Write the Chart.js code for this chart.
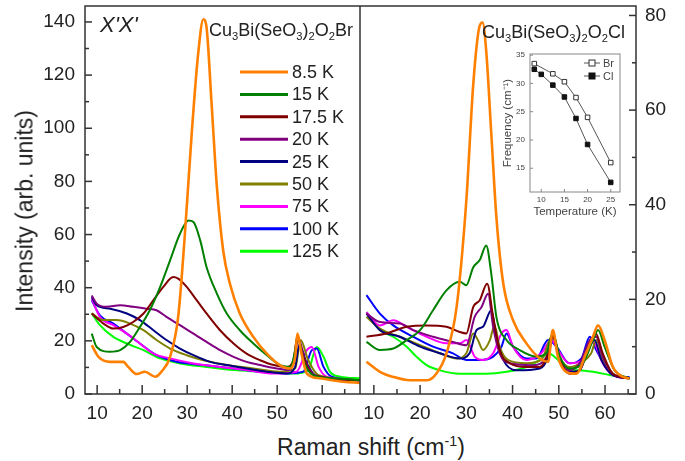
<!DOCTYPE html>
<html>
<head>
<meta charset="utf-8">
<script src="https://cdn.jsdelivr.net/npm/chart.js@4.4.1/dist/chart.umd.min.js"></script>
<style>
  body { margin: 0; background: #fff; width: 685px; height: 461px; position: relative; overflow: hidden;
         font-family: "Liberation Sans", Arial, sans-serif; }
  canvas { position: absolute; }
  .lbl { position: absolute; white-space: nowrap; color: #222; line-height: 1; z-index: 5; }
  .lbl sub { font-size: 62%; vertical-align: -0.32em; line-height: 0; }
  .lbl sup { font-size: 62%; vertical-align: 0.62em; line-height: 0; }
</style>
</head>
<body>
<canvas id="left" width="360" height="430" style="left:0;top:0"></canvas>
<canvas id="right" width="325" height="430" style="left:360px;top:0"></canvas>
<canvas id="inset" width="137" height="181" style="left:488px;top:44px"></canvas>

<div class="lbl" style="left:100px;top:14px;font-size:22px;font-style:italic">X'X'</div>
<div class="lbl" style="left:209px;top:21px;font-size:18px">Cu<sub>3</sub>Bi(SeO<sub>3</sub>)<sub>2</sub>O<sub>2</sub>Br</div>
<div class="lbl" style="left:482px;top:23px;font-size:18px">Cu<sub>3</sub>Bi(SeO<sub>3</sub>)<sub>2</sub>O<sub>2</sub>Cl</div>
<div class="lbl" style="left:371px;top:447px;font-size:23px;transform:translate(-50%,-50%)">Raman shift (cm<sup>-1</sup>)</div>
<div class="lbl" style="left:25px;top:211px;font-size:23px;transform:translate(-50%,-50%) rotate(-90deg)">Intensity (arb. units)</div>

<script>
// temperatures and their colours (same order in both panels)
const temps = ['8.5 K', '15 K', '17.5 K', '20 K', '25 K', '50 K', '75 K', '100 K', '125 K'];
const colors = ['#FF8000', '#008000', '#800000', '#800080', '#000080', '#808000', '#FF00FF', '#0000FF', '#00FF00'];

// tick labels
const mainXTicks = [10, 20, 30, 40, 50, 60];
const leftYTicks = [0, 20, 40, 60, 80, 100, 120, 140];
const rightYTicks = [0, 20, 40, 60, 80];
const insetXTicks = [10, 15, 20, 25];
const insetYTicks = [15, 20, 25, 30, 35];

// Cu3Bi(SeO3)2O2Br spectra, [Raman shift, intensity]
const br85 = [[8.8,18.4],[10.3,14.0],[12.9,12.1],[15.8,12.1],[16.9,10.2],[18.8,7.5],[20.6,8.4],[22.9,6.5],[24.3,8.4],[26.2,14],[28.0,29],[29.5,60.3],[31.0,97.8],[32.5,129],[33.6,141],[34.3,138],[35.4,110],[36.6,78],[38.0,54],[39.5,41.5],[41.7,30.3],[44.7,21.5],[47.7,15.2],[50.6,10.9],[52.9,9.6],[54.0,14],[54.5,22.7],[55.4,15.2],[56.6,7.7],[59.5,5.9],[64.7,4.6],[68.4,4.2]];
const br15 = [[8.8,22.7],[9.9,17.7],[12.9,15.9],[15.1,16.5],[17.3,19.6],[19.5,25.2],[21.7,31.5],[24.0,40.3],[26.2,50.3],[28.4,60.3],[30.3,65.3],[31.4,64.7],[32.9,57.8],[34.3,47.8],[36.6,37.8],[38.8,30.3],[41.7,24.0],[44.7,19.0],[47.7,14.6],[50.6,10.9],[52.9,10.2],[54.0,16.5],[54.5,22.1],[55.8,12.7],[58.0,7.1],[62.5,5.9],[68.4,5.2]];
const br175 = [[8.8,30.3],[11.4,26.5],[13.6,24.6],[15.8,25.2],[18.0,27.1],[20.3,30.3],[22.5,35.3],[24.7,40.3],[26.9,44.0],[28.0,43.4],[29.9,40.3],[32.1,35.3],[34.3,30.3],[37.3,24.0],[40.3,19.0],[43.2,15.2],[46.2,12.7],[49.2,10.9],[52.1,10.2],[53.6,12.7],[54.5,21.5],[55.8,14],[58.0,7.1],[68.4,5.2]];
const br20 = [[8.8,37.1],[9.9,34.0],[12.1,32.8],[15.1,33.4],[18.0,32.8],[21.0,32.1],[23.2,31.5],[25.4,29.0],[28.4,25.9],[31.4,22.7],[34.3,19.6],[37.3,16.5],[40.3,14.0],[43.2,12.1],[46.2,10.9],[49.9,9.6],[52.9,9.0],[54.0,15.2],[54.7,20.9],[56.2,12.7],[58.4,7.1],[68.4,5.2]];
const br25 = [[8.8,36.5],[9.9,33.4],[12.9,32.1],[16.6,30.3],[19.5,27.8],[22.5,24.0],[25.4,20.3],[28.4,17.1],[31.4,14.6],[35.1,12.1],[38.8,10.9],[43.2,9.6],[47.7,8.4],[52.1,7.7],[54.0,10.2],[54.9,18.4],[56.6,11.5],[58.8,6.5],[68.4,5.2]];
const br50 = [[8.8,30.3],[11.4,27.8],[14.3,27.8],[17.3,26.5],[20.3,24.0],[23.2,20.3],[26.2,17.1],[29.9,14.6],[33.6,12.7],[38.8,10.9],[44.7,9.6],[50.6,8.4],[54.0,9.6],[55.2,20.3],[56.9,12.7],[59.2,7.1],[68.4,5.2]];
const br75 = [[8.8,35.9],[10.6,29.0],[13.6,25.9],[16.6,22.7],[19.5,19.0],[22.5,15.2],[26.2,13.4],[31.4,11.5],[37.3,10.2],[43.2,9.0],[49.2,7.7],[54.3,8.4],[56.6,16.5],[57.7,17.7],[59.2,10.2],[61.0,6.5],[68.4,5.2]];
const br100 = [[8.8,35.3],[10.6,29.6],[13.6,26.5],[16.6,22.7],[19.5,19.0],[23.2,14.6],[27.7,12.1],[33.6,10.9],[40.3,9.6],[46.2,8.4],[52.1,7.7],[55.8,8.4],[57.7,16.5],[58.8,17.1],[60.3,10.2],[62.1,6.5],[68.4,5.2]];
const br125 = [[8.8,30.3],[10.6,25.9],[13.6,21.5],[16.6,19.0],[20.3,16.5],[24.0,13.4],[28.4,11.5],[34.3,10.2],[40.3,9.0],[46.2,8.4],[53.6,7.7],[56.9,9.0],[58.8,17.7],[60.3,14.0],[61.7,8.4],[64.0,6.5],[68.4,5.9]];

// Cu3Bi(SeO3)2O2Cl spectra
const cl85 = [[8.4,6.8],[11.3,4.7],[14.2,3.6],[17.8,2.9],[21.4,2.9],[23.5,4.3],[25.7,8.6],[27.9,18.4],[30.0,40.9],[31.5,65.5],[32.8,77.5],[33.5,78.5],[34.3,72.5],[35.4,55],[36.5,37.4],[38.0,23.3],[40.1,15.6],[43.0,10.7],[45.9,7.5],[47.7,6.8],[48.7,13.5],[49.8,7.9],[51.6,4.7],[53.8,4.3],[55.9,8.6],[57.4,12.1],[58.5,14.5],[59.9,11.4],[61.7,5.7],[63.9,3.6],[65.3,3.3]];
const cl15 = [[8.4,11.0],[11.3,9.3],[14.2,9.6],[17.1,11.4],[20.0,13.5],[22.8,17.7],[25.7,21.9],[28.6,23.7],[30.0,23.0],[31.5,26.8],[32.9,28.3],[34.3,31.4],[35.4,25.4],[36.5,16.3],[38.7,11.4],[41.5,9.3],[45.1,7.9],[47.3,8.6],[48.7,12.8],[50.2,7.9],[52.3,5.4],[55.2,6.5],[57.4,11.4],[58.5,13.5],[59.9,10.0],[62.1,5.0],[65.3,3.3]];
const cl175 = [[8.4,12.1],[12.7,12.8],[17.1,14.2],[21.4,14.5],[25.7,14.2],[28.6,13.1],[30.0,12.8],[31.5,18.4],[32.9,19.8],[34.5,23.3],[35.8,16.3],[37.2,9.3],[39.4,6.5],[43.0,5.7],[45.9,5.7],[47.7,8.6],[48.7,12.1],[50.2,7.2],[52.3,4.3],[54.5,5.0],[56.7,10.7],[58.0,12.8],[59.5,8.6],[61.7,4.3],[65.3,3.3]];
const cl20 = [[8.4,17.0],[11.3,15.2],[15.6,14.9],[18.5,13.5],[22.8,12.1],[27.1,11.0],[30.0,10.3],[31.8,16.3],[33.3,18.4],[34.7,21.2],[35.8,14.2],[37.2,8.6],[39.4,6.5],[44.4,6.1],[47.7,8.6],[48.7,12.8],[50.2,7.5],[52.3,5.0],[54.5,6.5],[56.7,11.4],[58.1,12.1],[59.5,7.9],[61.7,4.3],[65.3,3.3]];
const cl25 = [[8.4,17.0],[11.3,13.5],[15.6,12.1],[20.0,10.0],[24.3,8.6],[28.6,7.5],[30.7,8.6],[32.2,13.5],[33.6,14.2],[35.4,17.7],[36.5,12.1],[38.0,7.2],[40.8,5.0],[45.9,5.4],[47.7,7.9],[48.7,12.1],[50.2,7.2],[52.3,4.7],[54.5,5.0],[56.7,10.7],[57.7,11.4],[59.2,7.2],[61.7,4.0],[65.3,3.3]];
const cl50 = [[8.4,16.3],[11.3,13.8],[15.6,12.1],[20.0,10.3],[24.3,8.6],[27.9,7.5],[30.0,8.6],[31.5,12.8],[32.5,11.4],[33.6,9.3],[35.1,11.4],[36.1,14.5],[37.2,10.0],[39.0,7.2],[43.0,6.5],[46.2,7.2],[48.7,12.4],[50.2,7.9],[52.3,5.7],[55.2,6.8],[57.0,8.6],[58.1,11.4],[59.5,7.5],[61.7,4.3],[65.3,3.3]];
const cl75 = [[8.4,17.3],[11.3,14.5],[14.2,15.6],[17.1,14.2],[21.4,12.1],[25.7,10.7],[28.6,10.7],[30.0,11.4],[31.8,7.9],[33.6,7.2],[35.8,8.6],[37.6,12.8],[38.7,13.5],[40.1,10.0],[43.0,7.2],[46.2,8.6],[48.4,11.4],[49.8,9.3],[52.3,6.5],[55.2,7.2],[56.7,11.0],[57.7,10.7],[59.5,6.5],[61.7,4.0],[65.3,3.3]];
const cl100 = [[8.4,20.9],[11.3,17.0],[14.2,14.5],[18.5,12.1],[22.8,10.0],[27.1,8.6],[30.0,7.2],[32.9,7.2],[35.8,7.9],[37.6,10.0],[38.7,12.8],[40.1,10.0],[43.0,7.5],[45.1,7.5],[47.7,11.4],[49.5,10.0],[52.3,6.5],[54.9,7.5],[56.7,12.1],[58.1,9.3],[60.3,5.7],[63.1,3.6],[65.3,3.6]];
const cl125 = [[8.4,17.3],[11.3,13.5],[14.2,12.1],[17.1,10.0],[19.2,7.9],[21.4,6.1],[24.3,5.0],[28.6,4.3],[34.3,4.3],[38.7,4.7],[43.0,5.7],[45.9,7.2],[47.7,8.6],[49.5,7.5],[51.6,5.4],[54.5,5.0],[57.4,4.7],[61.0,4.0],[65.3,3.3]];

// inset: soft mode frequency vs temperature
const insetTempBr = [8.5, 12.5, 15, 17.5, 20, 25];
const insetFreqBr = [33.5, 31.7, 30.3, 27.5, 24.0, 16.0];
const insetTempCl = [8.5, 10, 12.5, 15, 17.5, 20, 25];
const insetFreqCl = [32.5, 31.6, 29.7, 27.6, 23.8, 19.2, 12.5];

const brSeries = [br85, br15, br175, br20, br25, br50, br75, br100, br125];
const clSeries = [cl85, cl15, cl175, cl20, cl25, cl50, cl75, cl100, cl125];

Chart.defaults.font.family = '"Liberation Sans", Arial, sans-serif';
Chart.defaults.color = '#222';

// halfway points between major ticks, plus one step beyond each end
function minorsOf(ticks) {
  const step = ticks[1] - ticks[0];
  const out = [ticks[0] - step / 2];
  ticks.forEach(t => out.push(t + step / 2));
  return out;
}

// fixed axis box size so the plot areas line up with the picture
function fixBox(size) {
  return s => {
    if (s.isHorizontal()) s.height = size; else s.width = size;
    s.paddingTop = s.paddingBottom = s.paddingLeft = s.paddingRight = 0;
  };
}

function setTicks(values) {
  return s => { s.ticks = values.map(v => ({ value: v })); };
}

// frame round the plot area and inward tick marks
function frameTicks(marks, color, width) {
  return {
    id: 'frameTicks',
    afterDatasetsDraw(chart) {
      const ctx = chart.ctx, a = chart.chartArea;
      ctx.save();
      ctx.strokeStyle = color;
      ctx.lineWidth = width;
      ctx.strokeRect(a.left, a.top, a.right - a.left, a.bottom - a.top);
      marks.forEach(m => {
        const s = chart.scales[m.axis];
        const draw = (v, len) => {
          if (v < s.min || v > s.max) return;
          const p = s.getPixelForValue(v);
          ctx.beginPath();
          if (m.side === 'bottom') { ctx.moveTo(p, a.bottom); ctx.lineTo(p, a.bottom - len); }
          else if (m.side === 'left') { ctx.moveTo(a.left, p); ctx.lineTo(a.left + len, p); }
          else { ctx.moveTo(a.right, p); ctx.lineTo(a.right - len, p); }
          ctx.stroke();
        };
        m.major.forEach(v => draw(v, m.len));
        (m.minor || []).forEach(v => draw(v, m.minorLen));
      });
      ctx.restore();
    }
  };
}

// temperature legend inside the left panel
const tempLegend = {
  id: 'tempLegend',
  afterDatasetsDraw(chart) {
    const ctx = chart.ctx;
    ctx.save();
    ctx.font = '18px "Liberation Sans", Arial, sans-serif';
    ctx.textBaseline = 'middle';
    ctx.fillStyle = '#222';
    chart.data.datasets.forEach((ds, i) => {
      const y = 72 + i * 22.4;
      ctx.strokeStyle = ds.borderColor;
      ctx.lineWidth = 3;
      ctx.beginPath(); ctx.moveTo(240, y); ctx.lineTo(288, y); ctx.stroke();
      ctx.fillText(ds.label, 292, y + 1);
    });
    ctx.restore();
  }
};

function spectraSets(series) {
  return series.map((pts, i) => ({
    label: temps[i],
    data: pts.map(p => ({ x: p[0], y: p[1] })),
    borderColor: colors[i],
    borderWidth: i === 0 ? 2.6 : 2,
    pointRadius: 0,
    cubicInterpolationMode: 'monotone',
    fill: false
  }));
}

const tickFont = { size: 19 };

// left panel: Br
new Chart(document.getElementById('left'), {
  type: 'line',
  data: { datasets: spectraSets(brSeries) },
  options: {
    responsive: false,
    animation: false,
    layout: { padding: { top: 6, right: 0, bottom: 0, left: 0 } },
    plugins: { legend: { display: false }, tooltip: { enabled: false } },
    scales: {
      x: {
        type: 'linear', min: 7.3, max: 68.4,
        afterBuildTicks: setTicks(mainXTicks),
        afterFit: fixBox(36),
        grid: { drawOnChartArea: false, drawTicks: false },
        border: { display: false },
        ticks: { font: tickFont, padding: 8, maxRotation: 0, autoSkip: false }
      },
      y: {
        type: 'linear', min: 0, max: 146,
        afterBuildTicks: setTicks(leftYTicks),
        afterFit: fixBox(85),
        grid: { drawOnChartArea: false, drawTicks: false },
        border: { display: false },
        ticks: { font: tickFont, padding: 10, autoSkip: false }
      }
    }
  },
  plugins: [
    frameTicks([
      { axis: 'x', side: 'bottom', major: mainXTicks, minor: minorsOf(mainXTicks), len: 9, minorLen: 5 },
      { axis: 'y', side: 'left', major: leftYTicks, minor: minorsOf(leftYTicks), len: 7, minorLen: 4 }
    ], '#333', 1.5),
    tempLegend
  ]
});

// right panel: Cl
new Chart(document.getElementById('right'), {
  type: 'line',
  data: { datasets: spectraSets(clSeries) },
  options: {
    responsive: false,
    animation: false,
    layout: { padding: { top: 6, right: 0, bottom: 0, left: 0 } },
    plugins: { legend: { display: false }, tooltip: { enabled: false } },
    scales: {
      x: {
        type: 'linear', min: 7.0, max: 66.7,
        afterBuildTicks: setTicks(mainXTicks),
        afterFit: fixBox(36),
        grid: { drawOnChartArea: false, drawTicks: false },
        border: { display: false },
        ticks: { font: tickFont, padding: 8, maxRotation: 0, autoSkip: false }
      },
      y: {
        type: 'linear', position: 'right', min: 0, max: 82,
        afterBuildTicks: setTicks(rightYTicks),
        afterFit: fixBox(49),
        grid: { drawOnChartArea: false, drawTicks: false },
        border: { display: false },
        ticks: { font: tickFont, padding: 9, autoSkip: false }
      }
    }
  },
  plugins: [
    frameTicks([
      { axis: 'x', side: 'bottom', major: mainXTicks, minor: minorsOf(mainXTicks), len: 9, minorLen: 5 },
      { axis: 'y', side: 'right', major: rightYTicks, minor: minorsOf(rightYTicks), len: 7, minorLen: 4 }
    ], '#333', 1.5)
  ]
});

// inset legend (Br open, Cl filled)
const insetLegend = {
  id: 'insetLegend',
  afterDatasetsDraw(chart) {
    const ctx = chart.ctx;
    const ox = 488, oy = 44; // canvas offset on the page
    ctx.save();
    ctx.font = '11px "Liberation Sans", Arial, sans-serif';
    ctx.textBaseline = 'middle';
    chart.data.datasets.forEach((ds, i) => {
      const y = 63 + i * 13 - oy;
      const x0 = 584 - ox, x1 = 600 - ox, xm = 592 - ox;
      ctx.strokeStyle = ds.borderColor;
      ctx.lineWidth = 1;
      ctx.beginPath(); ctx.moveTo(x0, y); ctx.lineTo(x1, y); ctx.stroke();
      ctx.fillStyle = ds.pointBackgroundColor;
      ctx.fillRect(xm - 3, y - 3, 6, 6);
      ctx.strokeStyle = ds.pointBorderColor;
      ctx.strokeRect(xm - 3, y - 3, 6, 6);
      ctx.fillStyle = '#444';
      ctx.fillText(ds.label, 603 - ox, y + 0.5);
    });
    ctx.restore();
  }
};

const insetFont = { size: 8 };

new Chart(document.getElementById('inset'), {
  type: 'line',
  data: {
    datasets: [
      {
        label: 'Br',
        data: insetTempBr.map((t, i) => ({ x: t, y: insetFreqBr[i] })),
        borderColor: '#555', borderWidth: 1,
        pointStyle: 'rect', pointRadius: 3.2, pointBorderWidth: 1,
        pointBackgroundColor: '#fff', pointBorderColor: '#333'
      },
      {
        label: 'Cl',
        data: insetTempCl.map((t, i) => ({ x: t, y: insetFreqCl[i] })),
        borderColor: '#555', borderWidth: 1,
        pointStyle: 'rect', pointRadius: 3.2, pointBorderWidth: 1,
        pointBackgroundColor: '#111', pointBorderColor: '#111'
      }
    ]
  },
  options: {
    responsive: false,
    animation: false,
    layout: { padding: { top: 10, right: 4, bottom: 0, left: 0 } },
    plugins: { legend: { display: false }, tooltip: { enabled: false } },
    scales: {
      x: {
        type: 'linear', min: 7.57, max: 27.0,
        afterBuildTicks: setTicks(insetXTicks),
        afterFit: fixBox(33),
        grid: { drawOnChartArea: false, drawTicks: false },
        border: { display: false },
        ticks: { font: insetFont, color: '#444', padding: 3, maxRotation: 0, autoSkip: false },
        title: { display: true, text: 'Temperature (K)', font: { size: 11.5 }, color: '#444', padding: { top: 0, bottom: 6 } }
      },
      y: {
        type: 'linear', min: 10.8, max: 35.2,
        afterBuildTicks: setTicks(insetYTicks),
        afterFit: fixBox(42),
        grid: { drawOnChartArea: false, drawTicks: false },
        border: { display: false },
        ticks: { font: insetFont, color: '#444', padding: 5, autoSkip: false },
        title: { display: true, text: 'Frequency (cm⁻¹)', font: { size: 11.5 }, color: '#444', padding: { top: 13, bottom: 0 } }
      }
    }
  },
  plugins: [
    frameTicks([
      { axis: 'x', side: 'bottom', major: insetXTicks, len: 3 },
      { axis: 'y', side: 'left', major: insetYTicks, len: 3 }
    ], '#888', 1),
    insetLegend
  ]
});
</script>
</body>
</html>
